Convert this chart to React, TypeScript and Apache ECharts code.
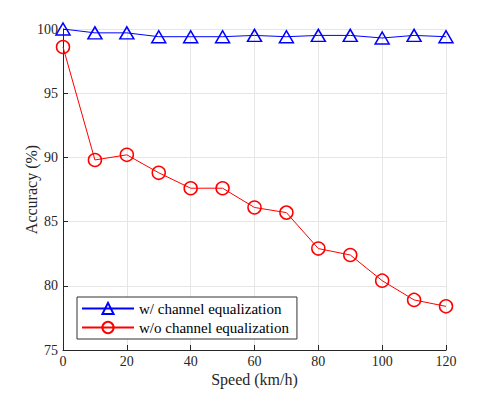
import React, { useEffect, useRef } from "react";
import * as echarts from "echarts";

const speeds = [0, 10, 20, 30, 40, 50, 60, 70, 80, 90, 100, 110, 120];
const withEq = [100, 99.7, 99.7, 99.4, 99.4, 99.4, 99.5, 99.4, 99.5, 99.5, 99.3, 99.5, 99.4];
const withoutEq = [98.6, 89.8, 90.2, 88.8, 87.6, 87.6, 86.1, 85.7, 82.9, 82.4, 80.4, 78.9, 78.4];
const seriesNames = ["w/ channel equalization", "w/o channel equalization"];

const FONT = "'Liberation Serif', 'DejaVu Serif', serif";

export default function App() {
  const ref = useRef<HTMLDivElement>(null);
  useEffect(() => {
    if (!ref.current) return;
    const chart = echarts.init(ref.current, undefined, { renderer: "svg" });
    const axisCommon = {
      axisLine: { show: true, lineStyle: { color: "#262626", width: 1 } },
      axisTick: { show: true, inside: true, length: 5, lineStyle: { color: "#262626" } },
      axisLabel: { color: "#262626", fontFamily: FONT, fontSize: 14, margin: 5 },
      splitLine: { show: true, lineStyle: { color: "#e6e6e6", width: 1 } },
      nameTextStyle: { color: "#262626", fontFamily: FONT, fontSize: 16 },
      nameMoveOverlap: false,
    };
    chart.setOption({
      animation: false,
      backgroundColor: "#ffffff",
      grid: { left: 63, right: 45, top: 29, bottom: 44, containLabel: false },
      xAxis: {
        type: "value",
        min: 0,
        max: 120,
        interval: 20,
        name: "Speed (km/h)",
        nameLocation: "middle",
        nameGap: 21,
        ...axisCommon,
        axisLabel: { ...axisCommon.axisLabel, margin: 4, lineHeight: 14 },
      },
      yAxis: {
        type: "value",
        min: 75,
        max: 100,
        interval: 5,
        name: "Accuracy (%)",
        nameLocation: "middle",
        nameGap: 24,
        ...axisCommon,
      },
      legend: {
        orient: "vertical",
        left: 77,
        top: 297,
        backgroundColor: "#ffffff",
        borderColor: "#333333",
        borderWidth: 1,
        borderRadius: 0,
        padding: [4, 8, 4, 4],
        itemGap: 4,
        itemWidth: 52,
        itemHeight: 14,
        textStyle: { color: "#000", fontFamily: FONT, fontSize: 15 },
        data: seriesNames,
      },
      series: [
        {
          name: seriesNames[0],
          type: "line",
          data: speeds.map((s, i) => [s, withEq[i]]),
          symbol: "triangle",
          symbolSize: [14, 12],
          lineStyle: { color: "#0000ff", width: 1 },
          itemStyle: { color: "rgba(255,255,255,0)", borderColor: "#0000ff", borderWidth: 1.5 },
          z: 3,
        },
        {
          name: seriesNames[1],
          type: "line",
          data: speeds.map((s, i) => [s, withoutEq[i]]),
          symbol: "circle",
          symbolSize: 13,
          lineStyle: { color: "#ff0000", width: 1 },
          itemStyle: { color: "rgba(255,255,255,0)", borderColor: "#ff0000", borderWidth: 1.5 },
          z: 2,
        },
      ],
    });
    return () => chart.dispose();
  }, []);
  return <div ref={ref} style={{ width: 491, height: 394, position: "absolute", left: 0, top: 0 }} />;
}
